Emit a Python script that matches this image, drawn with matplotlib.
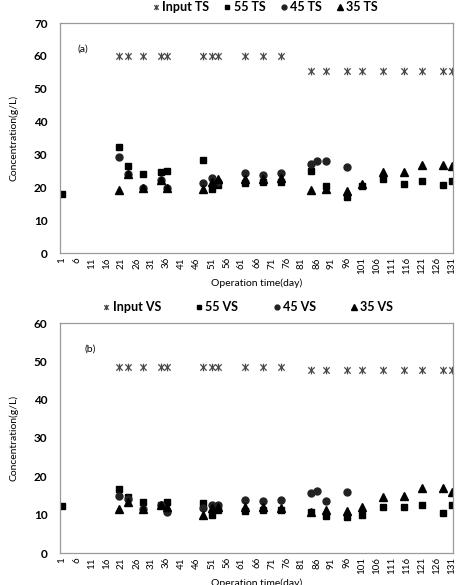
import numpy as np
import matplotlib
matplotlib.use("Agg")
import matplotlib.pyplot as plt
from matplotlib.path import Path

plt.rcParams["font.family"] = ["Lato", "DejaVu Sans"]
plt.rcParams["font.weight"] = "bold"

# ---- data ----
input_days = [20, 23, 28, 34, 36, 48, 51, 53, 62, 68, 74,
              84, 89, 96, 101, 108, 115, 121, 128, 131]
input_ts = [60, 60, 60, 60, 60, 60, 60, 60, 60, 60, 60,
            55.5, 55.5, 55.5, 55.5, 55.5, 55.5, 55.5, 55.5, 55.5]
input_vs = [48.5, 48.5, 48.5, 48.5, 48.5, 48.5, 48.5, 48.5, 48.5, 48.5, 48.5,
            47.7, 47.7, 47.7, 47.7, 47.7, 47.7, 47.7, 47.7, 47.7]

d55 = [1, 20, 23, 28, 34, 36, 48, 51, 53, 62, 68, 74,
       84, 89, 96, 101, 108, 115, 121, 128, 131]
ts55 = [18.0, 32.2, 26.4, 23.9, 24.7, 25.0, 28.2, 19.5, 20.8, 21.3, 21.5, 21.6,
        25.0, 20.3, 16.9, 20.4, 22.6, 21.1, 21.8, 20.8, 21.8]
vs55 = [12.2, 16.8, 14.7, 13.2, 12.5, 13.2, 13.0, 9.8, 11.1, 10.9, 11.2, 11.3,
        10.6, 9.7, 9.4, 9.8, 11.9, 12.0, 12.4, 10.5, 12.4]

d45 = [20, 23, 28, 34, 36, 48, 51, 53, 62, 68, 74, 84, 86, 89, 96]
ts45 = [29.1, 24.0, 19.8, 22.1, 19.8, 21.3, 22.8, 21.7, 24.5, 23.6, 24.3,
        27.2, 27.9, 28.1, 26.2]
vs45 = [14.9, 14.2, 11.4, 12.6, 10.7, 11.7, 12.6, 12.6, 13.8, 13.5, 13.9,
        15.7, 16.2, 13.6, 15.8]

d35 = [20, 23, 28, 34, 36, 48, 51, 53, 62, 68, 74,
       84, 89, 96, 101, 108, 115, 121, 128, 131]
ts35 = [19.3, 23.9, 19.8, 22.1, 19.8, 19.4, 21.5, 22.6, 22.6, 22.4, 22.7,
        19.2, 19.4, 19.0, 21.1, 24.6, 24.6, 26.7, 26.7, 26.5]
vs35 = [11.4, 13.3, 11.4, 12.4, 12.0, 10.0, 11.7, 11.9, 11.9, 12.0, 11.8,
        10.6, 11.1, 10.9, 11.9, 14.5, 14.8, 17.0, 17.0, 15.8]

xticks = list(range(1, 132, 5))

# Excel-style star marker: an x with a vertical bar
STAR = Path([(-1, -1), (1, 1), (-1, 1), (1, -1), (0, -1.2), (0, 1.2)],
            [Path.MOVETO, Path.LINETO, Path.MOVETO, Path.LINETO,
             Path.MOVETO, Path.LINETO])

W, H = 463, 585
fig = plt.figure(figsize=(W / 100, H / 100), dpi=100)


def panel(top_px, ymax, tag, inp, s55, s45, s35, kind, tag_xy):
    ax = fig.add_axes([60 / W, 1 - (top_px + 230) / H, 393 / W, 230 / H])
    ax.plot(input_days, inp, ls="none", marker=STAR, ms=5.5, mew=0.9,
            color="#4a4a4a", mfc="none", label=f"Input {kind}")
    ax.plot(d55, s55, ls="none", marker="s", ms=5.0, color="black",
            label=f"55 {kind}")
    ax.plot(d45, s45, ls="none", marker="o", ms=5.0, color="#222222",
            label=f"45 {kind}")
    ax.plot(d35, s35, ls="none", marker="^", ms=5.3, color="black",
            label=f"35 {kind}")
    ax.set_xlim(0.5, 131.5)
    ax.set_ylim(0, ymax)
    ax.set_yticks(range(0, ymax + 1, 10))
    ax.set_xticks(xticks)
    ax.set_xticklabels([str(t) for t in xticks], rotation=90, fontsize=7,
                       fontweight="normal")
    ax.tick_params(axis="y", labelsize=8.5, length=0, pad=9)
    ax.tick_params(axis="x", length=0, pad=3)
    for s in ax.spines.values():
        s.set_color("#9a9a9a")
        s.set_linewidth(0.9)
    ax.text(tag_xy[0], tag_xy[1], tag, fontsize=7.5, fontweight="normal",
            transform=ax.transAxes)
    ax.set_xlabel("Operation time(day)", fontsize=7.5, labelpad=3)
    ax.set_ylabel("Concentration(g/L)", fontsize=7.5, labelpad=11)
    return ax


ax1 = panel(23, 70, "(a)", input_ts, ts55, ts45, ts35, "TS", (0.045, 0.875))
ax2 = panel(323, 60, "(b)", input_vs, vs55, vs45, vs35, "VS", (0.063, 0.875))

fig.legend(*ax1.get_legend_handles_labels(), loc="center",
           bbox_to_anchor=(264 / W, 1 - 7 / H), ncol=4, frameon=False,
           fontsize=9, handletextpad=0.05, columnspacing=1.0,
           markerscale=0.7, handlelength=0.9)
fig.legend(*ax2.get_legend_handles_labels(), loc="center",
           bbox_to_anchor=(247 / W, 1 - 307 / H), ncol=4, frameon=False,
           fontsize=9, handletextpad=0.05, columnspacing=2.6,
           markerscale=0.7, handlelength=0.9)

fig.savefig("out.png", dpi=100)
